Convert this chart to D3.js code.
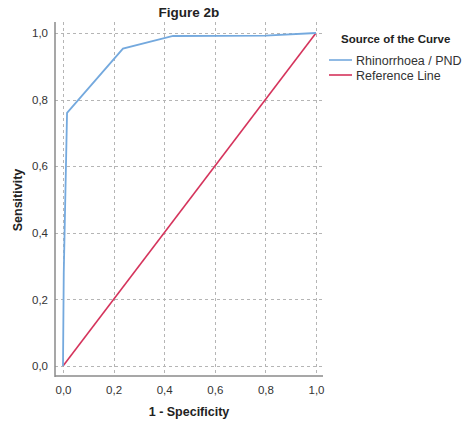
<!DOCTYPE html>
<html>
<head>
<meta charset="utf-8">
<script src="https://cdn.jsdelivr.net/npm/d3@7"></script>
<style>
  body { margin: 0; background: #fff; }
  text { font-family: "Liberation Sans", Arial, sans-serif; }
</style>
</head>
<body>
<div id="chart"></div>
<script>
// ROC curve points (1 - specificity, sensitivity)
const curveFpr = [0, 0.003, 0.016, 0.237, 0.435, 0.8, 1];
const curveTpr = [0, 0.28, 0.76, 0.953, 0.991, 0.992, 1];
const refFpr = [0, 1];
const refTpr = [0, 1];
const tickValues = [0, 0.2, 0.4, 0.6, 0.8, 1];
const seriesNames = ["Rhinorrhoea / PND", "Reference Line"];
const seriesColors = ["#74a9de", "#d5345c"];

const width = 467, height = 423;
const plot = { left: 55, top: 22, right: 323, bottom: 376 };

const svg = d3.select("#chart").append("svg")
    .attr("width", width)
    .attr("height", height);

const x = d3.scaleLinear().domain([0, 1]).range([63, 316]);
const y = d3.scaleLinear().domain([0, 1]).range([366, 33]);
const fmt = d => d3.format(".1f")(d).replace(".", ",");

// grid
const grid = svg.append("g").attr("stroke", "#b5b5b5").attr("stroke-dasharray", "3,3").attr("stroke-width", 1);
grid.selectAll(".vx").data(tickValues).enter().append("line")
    .attr("x1", d => Math.round(x(d)) + 0.5).attr("x2", d => Math.round(x(d)) + 0.5)
    .attr("y1", plot.top).attr("y2", plot.bottom);
grid.selectAll(".hy").data(tickValues).enter().append("line")
    .attr("x1", plot.left).attr("x2", plot.right)
    .attr("y1", d => Math.round(y(d)) + 0.5).attr("y2", d => Math.round(y(d)) + 0.5);

// axes
const xAxis = svg.append("g").attr("transform", `translate(0,${plot.bottom})`)
    .call(d3.axisBottom(x).tickValues(tickValues).tickFormat(fmt).tickSize(0).tickPadding(10));
xAxis.select(".domain").remove();
const yAxis = svg.append("g").attr("transform", `translate(${plot.left},0)`)
    .call(d3.axisLeft(y).tickValues(tickValues).tickFormat(fmt).tickSize(0).tickPadding(7));
yAxis.select(".domain").remove();
svg.selectAll(".tick text").attr("font-size", 11.5).attr("fill", "#333")
    .style("font-family", "'Liberation Sans', Arial, sans-serif");

svg.append("line").attr("x1", plot.left).attr("x2", plot.left)
    .attr("y1", plot.top).attr("y2", plot.bottom + 1)
    .attr("stroke", "#8a8a8a").attr("stroke-width", 1.5);
svg.append("line").attr("x1", plot.left).attr("x2", plot.right)
    .attr("y1", plot.bottom).attr("y2", plot.bottom)
    .attr("stroke", "#8a8a8a").attr("stroke-width", 1.5);

// lines
const line = d3.line().x(d => x(d[0])).y(d => y(d[1]));
svg.append("path").datum(refFpr.map((v, i) => [v, refTpr[i]]))
    .attr("d", line).attr("fill", "none")
    .attr("stroke", seriesColors[1]).attr("stroke-width", 1.6);
svg.append("path").datum(curveFpr.map((v, i) => [v, curveTpr[i]]))
    .attr("d", line).attr("fill", "none")
    .attr("stroke", seriesColors[0]).attr("stroke-width", 1.8);

// titles
svg.append("text").attr("x", 189).attr("y", 17).attr("text-anchor", "middle")
    .attr("font-size", 13.5).attr("font-weight", "bold").attr("fill", "#222").text("Figure 2b");
svg.append("text").attr("x", 189).attr("y", 416).attr("text-anchor", "middle")
    .attr("font-size", 12.5).attr("font-weight", "bold").attr("fill", "#222").text("1 - Specificity");
svg.append("text").attr("transform", "translate(22,200) rotate(-90)").attr("text-anchor", "middle")
    .attr("font-size", 12.5).attr("font-weight", "bold").attr("fill", "#222").text("Sensitivity");

// legend
const legend = svg.append("g");
legend.append("text").attr("x", 341).attr("y", 43)
    .attr("font-size", 11.5).attr("font-weight", "bold").attr("fill", "#222").text("Source of the Curve");
seriesNames.forEach((name, i) => {
    const ly = 60 + i * 15;
    legend.append("line").attr("x1", 329).attr("x2", 352).attr("y1", ly).attr("y2", ly)
        .attr("stroke", seriesColors[i]).attr("stroke-width", 1.6);
    legend.append("text").attr("x", 356).attr("y", ly + 4.5)
        .attr("font-size", 12.5).attr("fill", "#333").text(name);
});
</script>
</body>
</html>
